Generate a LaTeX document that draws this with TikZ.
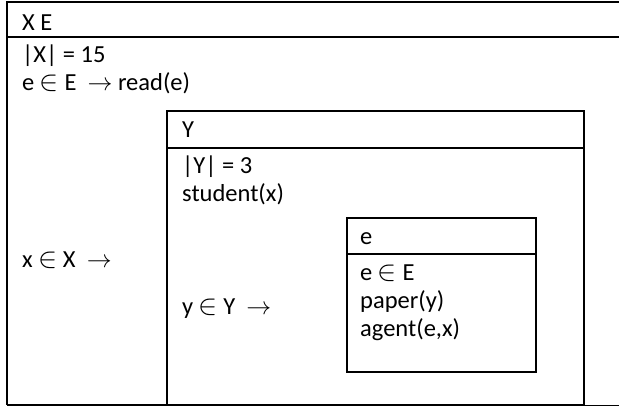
\documentclass[tikz,border=0pt]{standalone}
\usepackage{fontspec}
\usepackage{graphicx}
\setmainfont{Carlito}
% element sign drawn a little larger than the math default
\newcommand{\elemof}{\raisebox{-0.03em}{\scalebox{1.15}{$\in$}}}
\begin{document}
\begin{tikzpicture}[x=1pt,y=-1pt,
  frame/.style={line width=2.6pt},
  thinframe/.style={line width=1.2pt},
  txt/.style={anchor=base west,inner sep=0pt,font=\fontsize{24.5}{28}\selectfont}]
\useasboundingbox (0,0) rectangle (619,407);
% outer box (right edge runs off the page)
\draw[frame] (7,405) -- (7,2) -- (625,2);
\draw[frame] (7,37) -- (625,37);
\draw[frame] (7,405) -- (584,405);
\draw[thinframe] (584,405.5) -- (625,405.5);
% Y box
\draw[frame] (167,111) rectangle (584,405);
\draw[frame] (167,148) -- (584,148);
% e box
\draw[frame] (347,218) rectangle (536,372);
\draw[frame] (347,254) -- (536,254);
% outer texts
\node[txt] (xe)    at (22,30)  {X E};
\node[txt] (cardx) at (22,62)  {|X| = 15};
\node[txt] (read)  at (22,90)  {e \elemof{} E\ \ $\rightarrow$ read(e)};
\node[txt] (xinx)  at (22,267) {x \elemof{} X\ \ $\rightarrow$};
% Y box texts
\node[txt] (ylab)  at (182,137) {Y};
\node[txt] (cardy) at (182,173) {|Y| = 3};
\node[txt] (stud)  at (182,201) {student(x)};
\node[txt] (yiny)  at (182,314) {y \elemof{} Y\ \ $\rightarrow$};
% e box texts
\node[txt] (elab)  at (360,244) {e};
\node[txt] (eine)  at (360,280) {e \elemof{} E};
\node[txt] (paper) at (360,308) {paper(y)};
\node[txt] (agent) at (360,336) {agent(e,x)};
\end{tikzpicture}
\end{document}
